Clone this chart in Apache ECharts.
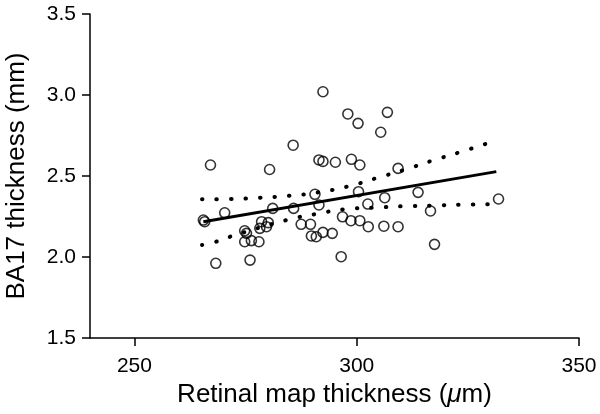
<!DOCTYPE html>
<html>
<head>
<meta charset="utf-8">
<script src="https://cdn.jsdelivr.net/npm/echarts@6/dist/echarts.min.js"></script>
<style>
html,body{margin:0;padding:0;background:#fff;}
#chart{width:600px;height:414px;}
</style>
</head>
<body>
<div id="chart"></div>
<script>
// Retinal map thickness (µm) vs BA17 thickness (mm)
const retinalX = [265.5,265.8,267.1,268.3,270.3,274.8,275.2,274.8,276.3,278.0,278.6,280.1,279.7,278.2,276.0,280.4,281.1,285.7,285.8,287.5,289.6,289.8,290.9,290.6,291.5,291.5,292.4,292.4,292.4,294.5,295.2,296.5,296.8,298.0,298.8,298.7,300.3,300.7,300.4,300.7,302.5,302.6,305.4,306.9,306.3,306.1,309.3,309.3,313.8,316.6,317.5,331.9];
const ba17Y   = [2.228,2.218,2.568,1.961,2.273,2.162,2.146,2.094,2.101,2.094,2.218,2.212,2.187,2.177,1.981,2.540,2.300,2.690,2.300,2.202,2.202,2.130,2.125,2.387,2.321,2.599,2.590,3.020,2.152,2.146,2.585,2.002,2.248,2.883,2.603,2.224,2.825,2.568,2.403,2.224,2.327,2.187,2.770,2.893,2.366,2.190,2.547,2.187,2.399,2.284,2.078,2.358];

const fitX = [265.5, 331.4];
const fitY = [2.218, 2.527];

const upperX = [265.2,271.7,278.2,284.8,291.3,297.8,304.3,310.6,316.8,323.1,329.5];
const upperY = [2.356,2.358,2.366,2.378,2.399,2.434,2.486,2.537,2.593,2.646,2.702];

const lowerX = [265.2,268.3,271.5,284.2,290.6,297.1,303.7,310.2,316.8,323.4,330.0];
const lowerY = [2.074,2.094,2.125,2.228,2.264,2.294,2.304,2.313,2.317,2.323,2.325];

const xTicks = [250, 300, 350];
const yTicks = [1.5, 2.0, 2.5, 3.0, 3.5];

const zip = (a, b) => a.map((v, i) => [v, b[i]]);

const font = 'Liberation Sans, Arial, Helvetica, sans-serif';
const chart = echarts.init(document.getElementById('chart'), null, {renderer: 'canvas'});
chart.setOption({
  animation: false,
  backgroundColor: '#fff',
  grid: {left: 90, right: 21, top: 14, bottom: 76, containLabel: false, outerBoundsMode: 'none'},
  xAxis: {
    type: 'value', min: 240, max: 350,
    name: 'Retinal map thickness ({i|μ}m)',
    nameLocation: 'middle', nameGap: 40,
    nameTextStyle: {fontFamily: font, fontSize: 26, color: '#000', rich: {i: {fontFamily: font, fontSize: 26, fontStyle: 'italic', color: '#000'}}},
    axisLine: {show: true, onZero: false, lineStyle: {color: '#000', width: 1.5}},
    axisTick: {show: true, length: 8, customValues: xTicks, lineStyle: {color: '#000', width: 1.5}},
    axisLabel: {customValues: xTicks, margin: 18, fontFamily: font, fontSize: 21, color: '#000'},
    splitLine: {show: false}
  },
  yAxis: {
    type: 'value', min: 1.5, max: 3.5, interval: 0.5,
    name: 'BA17 thickness (mm)',
    nameLocation: 'middle', nameGap: 60, nameRotate: 90,
    nameTextStyle: {fontFamily: font, fontSize: 26, color: '#000'},
    axisLine: {show: true, onZero: false, lineStyle: {color: '#000', width: 1.5}},
    axisTick: {show: true, length: 8, customValues: yTicks, lineStyle: {color: '#000', width: 1.5}},
    axisLabel: {customValues: yTicks, margin: 14, fontFamily: font, fontSize: 21, color: '#000', formatter: v => Number(v).toFixed(1)},
    splitLine: {show: false}
  },
  series: [
    {
      type: 'line', data: zip(upperX, upperY), symbol: 'none', smooth: true,
      lineStyle: {color: '#000', width: 4, type: [0.5, 14], cap: 'round'}, z: 2
    },
    {
      type: 'line', data: zip(lowerX, lowerY), symbol: 'none', smooth: true,
      lineStyle: {color: '#000', width: 4, type: [0.5, 14], cap: 'round'}, z: 2
    },
    {
      type: 'line', data: zip(fitX, fitY), symbol: 'none',
      lineStyle: {color: '#000', width: 3}, z: 3
    },
    {
      type: 'scatter', data: zip(retinalX, ba17Y), symbol: 'circle', symbolSize: 10,
      itemStyle: {color: 'rgba(0,0,0,0)', borderColor: '#000', borderWidth: 1.6}, z: 4
    }
  ]
});
</script>
</body>
</html>
